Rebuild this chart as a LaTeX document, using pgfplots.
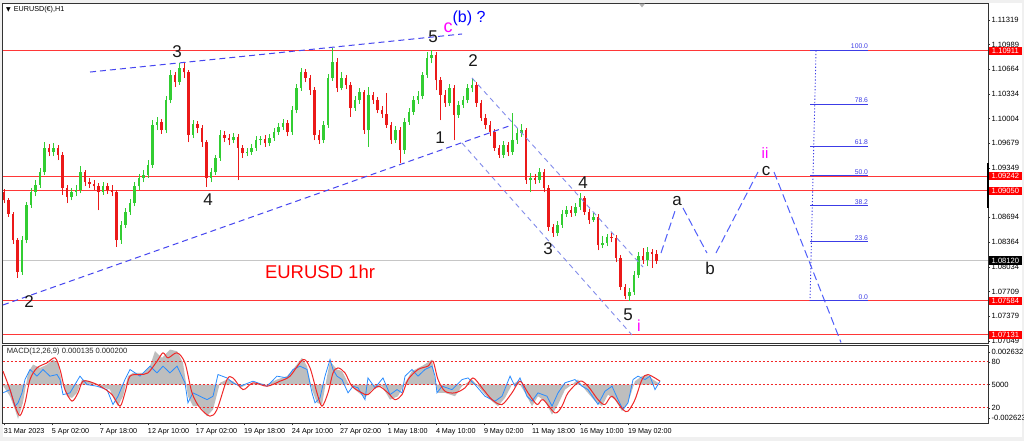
\documentclass[border=0pt]{standalone}
\usepackage{fontspec}
\setmainfont{Liberation Sans}
\newfontfamily\dv{DejaVu Sans}
\usepackage{pgfplots}
\pgfplotsset{compat=1.18}
\usepackage{pgfplotstable}

\definecolor{bullc}{RGB}{50,205,50}
\definecolor{bearc}{RGB}{235,25,25}
\definecolor{lvl}{RGB}{255,55,55}
\definecolor{trend}{RGB}{70,70,240}
\definecolor{chan}{RGB}{130,140,235}
\definecolor{proj}{RGB}{80,95,250}
\definecolor{fib}{RGB}{60,60,230}
\definecolor{histg}{RGB}{190,190,190}
\definecolor{macdblue}{RGB}{40,140,255}
\definecolor{macdred}{RGB}{240,40,40}
\definecolor{mag}{RGB}{255,0,255}

\pgfplotstableread{
x o h l c
24 1.07967 1.08446 1.07928 1.08393
30 1.08393 1.08899 1.08353 1.08859
36 1.08859 1.09085 1.08819 1.09031
42 1.09031 1.09191 1.08978 1.09125
48 1.09125 1.09351 1.09085 1.09297
54 1.09297 1.09696 1.09258 1.09617
66 1.09563 1.09683 1.09510 1.09617
90 1.08965 1.09085 1.08925 1.09031
96 1.09031 1.09125 1.08978 1.09058
102 1.09058 1.09377 1.09018 1.09297
132 1.09031 1.09164 1.08992 1.09111
156 1.08393 1.08646 1.08340 1.08593
162 1.08593 1.08819 1.08553 1.08766
168 1.08766 1.08938 1.08726 1.08885
174 1.08885 1.09164 1.08845 1.09111
180 1.09111 1.09271 1.09058 1.09218
186 1.09218 1.09324 1.09164 1.09258
192 1.09258 1.09457 1.09218 1.09391
198 1.09391 1.09989 1.09351 1.09923
204 1.09923 1.10029 1.09856 1.09962
216 1.09856 1.10308 1.09816 1.10255
222 1.10255 1.10654 1.10215 1.10588
234 1.10494 1.10747 1.10455 1.10681
252 1.09790 1.09989 1.09750 1.09936
276 1.09218 1.09351 1.09164 1.09297
282 1.09297 1.09524 1.09258 1.09484
288 1.09484 1.09856 1.09444 1.09790
306 1.09723 1.09816 1.09683 1.09763
324 1.09550 1.09617 1.09510 1.09563
330 1.09563 1.09670 1.09524 1.09617
336 1.09617 1.09776 1.09577 1.09723
342 1.09723 1.09776 1.09656 1.09736
354 1.09683 1.09803 1.09643 1.09750
360 1.09750 1.09883 1.09710 1.09829
366 1.09829 1.09949 1.09790 1.09896
372 1.09896 1.10002 1.09856 1.09949
384 1.09829 1.10175 1.09790 1.10122
390 1.10122 1.10468 1.10082 1.10415
396 1.10415 1.10681 1.10375 1.10627
426 1.09723 1.09976 1.09683 1.09923
432 1.09923 1.10601 1.09883 1.10548
438 1.10548 1.10947 1.10508 1.10760
450 1.10415 1.10627 1.10388 1.10548
468 1.10149 1.10308 1.10109 1.10255
474 1.10255 1.10415 1.10202 1.10361
486 1.09856 1.10428 1.09630 1.10322
522 1.09723 1.09909 1.09683 1.09856
534 1.09590 1.10016 1.09537 1.09962
540 1.09962 1.10149 1.09923 1.10096
546 1.10096 1.10308 1.10056 1.10255
552 1.10255 1.10375 1.10202 1.10308
558 1.10308 1.10627 1.10268 1.10588
564 1.10588 1.10893 1.10548 1.10814
570 1.10814 1.10920 1.10747 1.10854
594 1.10215 1.10468 1.10175 1.10415
606 1.10056 1.10242 1.10016 1.10189
612 1.10189 1.10308 1.10149 1.10255
618 1.10255 1.10468 1.10215 1.10415
624 1.10415 1.10548 1.10361 1.10455
666 1.09524 1.09710 1.09484 1.09656
678 1.09563 1.10082 1.09524 1.09723
684 1.09723 1.09883 1.09670 1.09816
690 1.09816 1.09936 1.09763 1.09856
702 1.09191 1.09284 1.09031 1.09218
714 1.09191 1.09351 1.09151 1.09297
738 1.08486 1.08646 1.08446 1.08593
744 1.08593 1.08792 1.08553 1.08739
750 1.08739 1.08845 1.08699 1.08792
762 1.08752 1.08885 1.08712 1.08832
768 1.08832 1.09018 1.08792 1.08952
786 1.08659 1.08752 1.08633 1.08699
798 1.08326 1.08446 1.08286 1.08353
804 1.08353 1.08473 1.08313 1.08433
834 1.07648 1.07755 1.07582 1.07701
840 1.07701 1.07981 1.07662 1.07928
846 1.07928 1.08233 1.07888 1.08180
858 1.08127 1.08300 1.08047 1.08233
}\bull

\pgfplotstableread{
x o h l c
0 1.09031 1.09071 1.08885 1.08925
6 1.08925 1.08952 1.08699 1.08739
12 1.08739 1.08766 1.08340 1.08393
18 1.08393 1.08420 1.07888 1.07967
60 1.09617 1.09670 1.09510 1.09563
72 1.09617 1.09656 1.09457 1.09524
78 1.09524 1.09563 1.08992 1.09085
84 1.09085 1.09125 1.08885 1.08965
108 1.09297 1.09324 1.09111 1.09164
114 1.09164 1.09218 1.09085 1.09138
120 1.09138 1.09191 1.09058 1.09111
126 1.09111 1.09151 1.08792 1.09031
138 1.09111 1.09151 1.09005 1.09058
144 1.09058 1.09125 1.08978 1.09031
150 1.09031 1.09058 1.08300 1.08393
210 1.09962 1.10002 1.09803 1.09856
228 1.10588 1.10627 1.10428 1.10494
240 1.10681 1.10747 1.10548 1.10627
246 1.10627 1.10654 1.09696 1.09790
258 1.09936 1.09976 1.09816 1.09883
264 1.09883 1.09923 1.09630 1.09696
270 1.09696 1.09723 1.09098 1.09218
294 1.09790 1.09843 1.09696 1.09750
300 1.09750 1.09803 1.09656 1.09723
312 1.09763 1.09803 1.09191 1.09617
318 1.09617 1.09656 1.09484 1.09550
348 1.09736 1.09790 1.09630 1.09683
378 1.09949 1.09989 1.09776 1.09829
402 1.10627 1.10667 1.10494 1.10548
408 1.10548 1.10588 1.10322 1.10388
414 1.10388 1.10428 1.09723 1.09790
420 1.09790 1.09856 1.09670 1.09723
444 1.10760 1.10814 1.10361 1.10415
456 1.10548 1.10588 1.10401 1.10455
462 1.10455 1.10494 1.10029 1.10149
480 1.10361 1.10388 1.09803 1.09856
492 1.10322 1.10361 1.10202 1.10255
498 1.10255 1.10295 1.10082 1.10122
504 1.10122 1.10175 1.10016 1.10069
510 1.10069 1.10348 1.09883 1.09923
516 1.09923 1.09962 1.09670 1.09723
528 1.09856 1.09896 1.09417 1.09590
576 1.10854 1.10893 1.10388 1.10521
582 1.10521 1.10561 1.09989 1.10322
588 1.10322 1.10388 1.10162 1.10215
600 1.10415 1.10455 1.09723 1.10056
630 1.10455 1.10494 1.10162 1.10215
636 1.10215 1.10255 1.09976 1.10016
642 1.10016 1.10069 1.09869 1.09923
648 1.09923 1.09976 1.09776 1.09829
654 1.09829 1.09869 1.09577 1.09617
660 1.09617 1.09656 1.09484 1.09524
672 1.09656 1.09696 1.09510 1.09563
696 1.09856 1.09883 1.09138 1.09191
708 1.09218 1.09271 1.09138 1.09191
720 1.09297 1.09338 1.09031 1.09085
726 1.09085 1.09125 1.08513 1.08566
732 1.08566 1.08606 1.08433 1.08486
756 1.08792 1.08845 1.08699 1.08752
774 1.08952 1.08978 1.08726 1.08766
780 1.08766 1.08806 1.08606 1.08659
792 1.08699 1.08739 1.08260 1.08326
810 1.08433 1.08486 1.08366 1.08420
816 1.08420 1.08460 1.08100 1.08154
822 1.08154 1.08193 1.07728 1.07768
828 1.07768 1.07808 1.07608 1.07648
852 1.08180 1.08286 1.08074 1.08127
864 1.08233 1.08273 1.08021 1.08207
870 1.08207 1.08260 1.08074 1.08120
}\bear

\pgfplotstableread{
x v
-1.3 0
-1.3 -0.00007
8 -0.00079
14.7 -0.00169
18.7 -0.00232
25.3 -0.00122
32 0.00079
38.7 0.00135
48 0.00113
57.3 0.00135
65.3 0.00169
72 0.00147
77.3 0.00012
84 -0.00079
90.7 -0.0009
97.3 -0.00056
104 0.00034
114.7 0.00023
128 -0.00011
141.3 -0.00034
148 -0.00112
152 -0.00146
158.7 -0.00079
165.3 0.00057
172 0.00079
185.3 0.00079
194.7 0.00125
201.3 0.00226
210.7 0.00181
221.3 0.00237
230.7 0.00226
238.7 0.00147
245.3 -0.00079
252 -0.00146
261.3 -0.00146
270.7 -0.00214
278.7 -0.00169
288 0.00012
297.3 0.00034
305.3 0.00023
314.7 -0.00022
324 0
337.3 0.00012
350.7 0
364 0.00034
377.3 0.00057
385.3 0.00102
397.3 0.00181
404 0.00125
410.7 -0.00034
417.3 -0.00124
424 -0.00135
430.7 0.00057
434.7 0.00158
444 0.00102
450.7 0.00091
458.7 0.00012
468 -0.00034
481.3 -0.0009
490.7 -0.00034
504 -0.00011
514.7 -0.00102
525.3 -0.00079
534.7 0.00012
544 0.00091
557.3 0.00125
570.7 0.00169
574.7 0.00034
578.7 -0.00056
588 -0.00056
601.3 -0.00079
610.7 -0.00011
624 0.00034
632 -0.00011
645.3 -0.0009
658.7 -0.00146
668 -0.0009
677.3 0
685.3 0.00023
694.7 -0.00056
704 -0.00146
712 -0.00079
721.3 -0.00112
730.7 -0.00203
738.7 -0.00135
748 -0.00034
757.3 0
765.3 0.00034
774.7 -0.00034
788 -0.00112
797.3 -0.00146
805.3 -0.00068
814.7 -0.00102
824 -0.0018
832 -0.00124
841.3 0.00023
850.7 0.00057
857.3 0.00068
865.3 0.00034
872 0.00012
872 0
}\hist

\pgfplotstableread{
x v
-1.3 0.00091
8 -0.00034
14.7 -0.00146
21.3 -0.0021
28 -0.00124
34.7 0.00034
44 0.00113
57.3 0.00147
68 0.00181
74.7 0.00102
81.3 -0.00034
90.7 -0.00112
98.7 -0.00056
105.3 0.00023
118.7 0.00012
132 -0.00022
144 -0.00068
154.7 -0.00146
161.3 -0.00056
168 0.00057
181.3 0.00068
192 0.00079
204 0.00158
212 0.00215
218.7 0.00181
230.7 0.00215
241.3 0.00147
250.7 -0.00056
261.3 -0.00158
274.7 -0.00214
284 -0.00169
297.3 0.00034
305.3 0.00045
318.7 -0.00034
332 0.00012
350.7 -0.00011
368 0.00023
381.3 0.00057
398.7 0.00169
408 0.00113
417.3 -0.00056
424 -0.00146
432 -0.00056
438.7 0.00079
445.3 0.00113
454.7 0.00079
464 -0.00011
477.3 -0.00056
485.3 -0.00068
498.7 -0.00011
512 -0.00056
521.3 -0.00102
530.7 -0.00068
538.7 0.00034
552 0.00102
565.3 0.00125
572 0.00158
578.7 0.00034
588 -0.00045
601.3 -0.00056
614.7 -0.00022
625.3 0.00045
637.3 -0.00022
650.7 -0.00102
664 -0.00135
677.3 -0.00056
688 0.00023
698.7 -0.00056
710.7 -0.00135
718.7 -0.00102
734.7 -0.00192
744 -0.00146
752 -0.00056
768 0.00023
778.7 -0.00011
792 -0.00102
801.3 -0.00135
810.7 -0.00079
825.3 -0.00169
832 -0.0018
841.3 -0.00102
850.7 0.00034
858.7 0.00068
874.7 0.00023
}\mred

\pgfplotstableread{
x v
-1.3 -0.00056
8 -0.00034
14.7 -0.00146
18.7 -0.00124
24 -0.00056
28 0.00034
34.7 0.00102
44 0.00057
52 0.00102
61.3 0.00057
70.7 0.00068
74.7 0.00034
78.7 -0.00068
88 -0.00056
101.3 0.00057
110.7 0
124 -0.00011
137.3 -0.00034
145.3 -0.00135
152 -0.00079
161.3 0.00034
168 0.00102
181.3 0.00057
194.7 0.00125
204 0.00079
212 0.00125
221.3 0.00079
230.7 0.00125
241.3 0.00012
245.3 -0.00124
252 -0.00056
261.3 -0.00079
270.7 -0.00102
278.7 -0.00079
285.3 0.00068
297.3 0.00045
305.3 0.00012
314.7 -0.00011
332 0.00023
350.7 -0.00011
364 0.00057
377.3 0.00045
385.3 0.00102
394.7 0.00125
404 0.00102
410.7 -0.00056
414.7 -0.00124
421.3 -0.0009
428 0.00057
434.7 0.00169
438.7 0.00102
444 0.00057
450.7 0.00034
458.7 -0.00056
465.3 -0.00011
472 -0.00022
481.3 -0.00102
485.3 0.00045
494.7 -0.00022
505.3 0.00045
514.7 -0.00068
524 -0.00034
530.7 -0.00056
534.7 0.00057
544 0.00102
552 0.00057
561.3 0.00102
570.7 0.00125
574.7 0.00057
577.3 -0.00056
584 -0.00011
597.3 -0.00034
610.7 0.00034
618.7 0.00045
628 0
641.3 -0.00079
654.7 -0.00112
664 -0.00079
674.7 0.00057
681.3 -0.00011
688 0.00045
697.3 -0.00079
704 -0.00112
712 -0.00056
724 -0.00079
730.7 -0.00146
738.7 -0.00056
748 0.00012
761.3 0.00034
770.7 -0.00011
778.7 -0.00034
792 -0.00135
801.3 -0.00045
810.7 -0.00011
818.7 -0.00102
825.3 -0.00169
832 -0.00124
838.7 0.00034
845.3 0.00057
854.7 0.00034
861.3 0.00057
868 -0.00034
874.7 0.00023
}\mblue

\tikzset{
  wl/.style={font=\fontsize{8.5}{10}\selectfont, text=black!90, inner sep=0pt},
  fl/.style={font=\fontsize{3.4}{4}\selectfont, text=fib, inner sep=0.3pt, anchor=south east},
  pbox/.style={font=\fontsize{3.8}{4}\selectfont, text=white, fill=#1, anchor=west, inner sep=0.3pt, minimum width=16.5pt, minimum height=4.1pt}
}
\pgfplotsset{
  candle/.style n args={2}{#1, only marks, mark=none, mark size=0pt,
    mark options={draw=none, fill=none},
    error bars/.cd, y dir=plus, y explicit, error mark=none,
    error bar style={line width=#2, #1}}
}

\begin{document}
\begin{tikzpicture}
\useasboundingbox (0,0) rectangle (512pt,-220.5pt);
\fill[gray!12] (0,0) rectangle (512pt,-220.5pt);
\fill[white] (1.35pt,-1.65pt) rectangle (511pt,-218.3pt);

% ---------------- main price panel ----------------
\begin{axis}[
  at={(1.35pt,-1.65pt)}, anchor=north west,
  scale only axis, width=492.65pt, height=169.85pt,
  xmin=-1.73, xmax=1312, ymin=1.07023, ymax=1.11541,
  axis line style={line width=0.5pt, black!80},
  xtick=\empty,
  ytick={1.07049,1.07379,1.07709,1.08034,1.08364,1.08694,1.09019,1.09349,1.09679,1.10004,1.10334,1.10664,1.10989,1.11319},
  yticklabels={1.07049,1.07379,1.07709,1.08034,1.08364,1.08694,1.09019,1.09349,1.09679,1.10004,1.10334,1.10664,1.10989,1.11319},
  ytick pos=right, yticklabel pos=right,
  tick align=outside, major tick length=1pt,
  tick style={black!80, line width=0.4pt},
  yticklabel style={font=\fontsize{3.8}{4}\selectfont, anchor=west, inner sep=0.6pt},
  scaled y ticks=false,
]
% horizontal levels
\addplot[gray!45, line width=0.4pt] coordinates {(-1.73,1.08120) (1312,1.08120)};
\addplot[lvl, line width=0.6pt] coordinates {(-1.73,1.10911) (1312,1.10911)};
\addplot[lvl, line width=0.6pt] coordinates {(-1.73,1.09242) (1312,1.09242)};
\addplot[lvl, line width=0.6pt] coordinates {(-1.73,1.09050) (1312,1.09050)};
\addplot[lvl, line width=0.6pt] coordinates {(-1.73,1.07584) (1312,1.07584)};
\addplot[lvl, line width=0.6pt] coordinates {(-1.73,1.07131) (1312,1.07131)};
% candles: wicks
\addplot[candle={bullc}{0.35pt}] table[x=x, y=l, y error plus expr=\thisrow{h}-\thisrow{l}] {\bull};
\addplot[candle={bearc}{0.35pt}] table[x=x, y=l, y error plus expr=\thisrow{h}-\thisrow{l}] {\bear};
% candles: bodies
\addplot[candle={bullc}{1.2pt}] table[x=x, y=o, y error plus expr=\thisrow{c}-\thisrow{o}] {\bull};
\addplot[candle={bearc}{1.2pt}] table[x=x, y=c, y error plus expr=\thisrow{o}-\thisrow{c}] {\bear};
% trend lines
\addplot[trend, line width=0.5pt, dash pattern=on 3pt off 2pt] coordinates {(114.7,1.10627) (610.7,1.11133)};
\addplot[trend, line width=0.5pt, dash pattern=on 3pt off 2pt] coordinates {(-1.3,1.07529) (677.3,1.09923)};
\addplot[chan, line width=0.45pt, dash pattern=on 2.5pt off 2pt] coordinates {(624,1.10548) (852,1.08034)};
\addplot[chan, line width=0.45pt, dash pattern=on 2.5pt off 2pt] coordinates {(610.7,1.09683) (837.3,1.07130)};
% projected path
\addplot[proj, line width=0.5pt, dash pattern=on 4pt off 2pt] coordinates {(876,1.08220) (896,1.08819)};
\addplot[proj, line width=0.5pt, dash pattern=on 4pt off 2pt] coordinates {(905.3,1.08819) (937.3,1.08220)};
\addplot[proj, line width=0.5pt, dash pattern=on 4pt off 2pt] coordinates {(949.3,1.08220) (1005.3,1.09297)};
\addplot[proj, line width=0.5pt, dash pattern=on 4pt off 2pt] coordinates {(1026.7,1.09297) (1116,1.07030)};
% fibonacci
\addplot[fib, line width=0.45pt, dash pattern=on 0.6pt off 1pt] coordinates {(1082.7,1.10911) (1074.7,1.07584)};
\addplot[fib, line width=0.5pt] coordinates {(1074.7,1.10911) (1152,1.10911)};
\addplot[fib, line width=0.5pt] coordinates {(1074.7,1.10199) (1152,1.10199)};
\addplot[fib, line width=0.5pt] coordinates {(1074.7,1.09640) (1152,1.09640)};
\addplot[fib, line width=0.5pt] coordinates {(1074.7,1.09248) (1152,1.09248)};
\addplot[fib, line width=0.5pt] coordinates {(1074.7,1.08855) (1152,1.08855)};
\addplot[fib, line width=0.5pt] coordinates {(1074.7,1.08369) (1152,1.08369)};
\addplot[fib, line width=0.5pt] coordinates {(1074.7,1.07584) (1152,1.07584)};
\end{axis}

% ---------------- MACD panel ----------------
\begin{axis}[
  at={(1.35pt,-172.85pt)}, anchor=north west,
  scale only axis, width=492.65pt, height=38.8pt,
  xmin=-1.73, xmax=1312, ymin=-0.002623, ymax=0.002632,
  axis line style={line width=0.5pt, black!80},
  xtick={0,64,128,192,256,320,384,448,512,576,640,704,768,832},
  xticklabels={31 Mar 2023,5 Apr 02:00,7 Apr 18:00,12 Apr 10:00,17 Apr 02:00,19 Apr 18:00,24 Apr 10:00,27 Apr 02:00,1 May 18:00,4 May 10:00,9 May 02:00,11 May 18:00,16 May 10:00,19 May 02:00},
  xtick pos=left,
  ytick={-0.00226,-0.00158,0,0.00153,0.00221},
  yticklabels={-0.002623,20,5000,80,0.002632},
  ytick pos=right, yticklabel pos=right,
  tick align=outside, major tick length=1pt,
  tick style={black!80, line width=0.4pt},
  yticklabel style={font=\fontsize{3.8}{4}\selectfont, anchor=west, inner sep=0.6pt},
  xticklabel style={font=\fontsize{3.6}{4}\selectfont, anchor=north west, inner sep=0pt, yshift=-1.6pt, xshift=-0.2pt},
  scaled y ticks=false, scaled x ticks=false,
]
\addplot[fill=histg, draw=none] table[x=x, y=v] {\hist} -- cycle;
\addplot[macdred, line width=0.45pt, dash pattern=on 1pt off 1pt] coordinates {(-1.73,0.00155) (1312,0.00155)};
\addplot[macdred, line width=0.45pt, dash pattern=on 1pt off 1pt] coordinates {(-1.73,0) (1312,0)};
\addplot[macdred, line width=0.45pt, dash pattern=on 1pt off 1pt] coordinates {(-1.73,-0.00158) (1312,-0.00158)};
\addplot[macdblue, line width=0.4pt] table[x=x, y=v] {\mblue};
\addplot[macdred, line width=0.5pt, smooth] table[x=x, y=v] {\mred};
\end{axis}

% ---------------- texts and labels (pixel coordinates) ----------------
\begin{scope}[x=0.5pt, y=-0.5pt]
\fill[gray!60] (639,3.6) -- (645,3.6) -- (642,7.4) -- cycle;
\draw[black, line width=1pt] (988,163) -- (988,208);
\node[font=\dv\fontsize{3}{3}\selectfont, inner sep=0pt] at (8.5,9.5) {▼};
\node[anchor=west, font=\fontsize{3.6}{4}\selectfont, inner sep=0pt] at (13.5,9.5) {EURUSD(€),H1};
\node[anchor=west, font=\fontsize{3.8}{4}\selectfont, inner sep=0pt, text=black!85] at (6.5,352) {MACD(12,26,9) 0.000135 0.000200};
% wave labels
\node[wl] at (177,52) {3};
\node[wl] at (433,37) {5};
\node[wl] at (473,61) {2};
\node[wl] at (440,138) {1};
\node[wl] at (208,200) {4};
\node[wl] at (29,302) {2};
\node[wl] at (548,249) {3};
\node[wl] at (583,183) {4};
\node[wl] at (628,315) {5};
\node[wl] at (677,201) {a};
\node[wl] at (710,268) {b};
\node[wl] at (766,171) {c};
\node[font=\fontsize{9}{10}\selectfont, text=mag, inner sep=0pt] at (448,28) {c};
\node[font=\fontsize{8}{9}\selectfont, text=blue, inner sep=0pt] at (469,18) {(b) ?};
\node[font=\fontsize{8}{9}\selectfont, text=mag, inner sep=0pt] at (639,326) {i};
\node[font=\fontsize{7.5}{9}\selectfont, text=mag, inner sep=0pt] at (765,153) {ii};
\node[font=\fontsize{9.25}{10}\selectfont, text=red, inner sep=0pt] at (320,272) {EURUSD 1hr};
% fib labels
\node[fl] at (869,50) {100.0};
\node[fl] at (869,103.5) {78.6};
\node[fl] at (869,145.7) {61.8};
\node[fl] at (869,175.8) {50.0};
\node[fl] at (869,205.3) {38.2};
\node[fl] at (869,241.9) {23.6};
\node[fl] at (869,300.3) {0.0};
% price boxes
\node[pbox=red] at (988.5,50.7) {1.10911};
\node[pbox=red] at (988.5,176.2) {1.09242};
\node[pbox=red] at (988.5,190.6) {1.09050};
\node[pbox=black] at (988.5,260.5) {1.08120};
\node[pbox=red] at (988.5,300.8) {1.07584};
\node[pbox=red] at (988.5,334.9) {1.07131};
\end{scope}
\end{tikzpicture}
\end{document}
